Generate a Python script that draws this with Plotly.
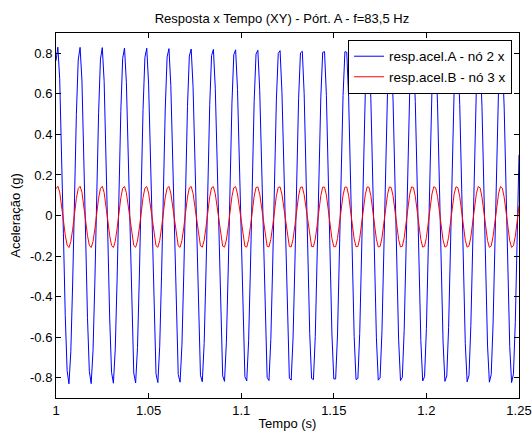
import numpy as np
import plotly.graph_objects as go

# ---- data ----
t_start = 1.0          # s
sample_rate = 1000.0   # Hz

blue_A = [
    0.763, 0.830, 0.675, 0.338, -0.090, -0.494, -0.765, -0.830, -0.672, -0.333, 0.095,
    0.498, 0.767, 0.829, 0.668, 0.328, -0.101, -0.502, -0.769, -0.829, -0.665, -0.323, 0.106,
    0.506, 0.771, 0.828, 0.661, 0.318, -0.111, -0.510, -0.773, -0.827, -0.658, -0.313, 0.116,
    0.514, 0.775, 0.826, 0.655, 0.308, -0.121, -0.518, -0.777, -0.826, -0.652, -0.303, 0.126,
    0.522, 0.779, 0.825, 0.648, 0.298, -0.132, -0.526, -0.781, -0.824, -0.645, -0.294, 0.137,
    0.530, 0.782, 0.823, 0.641, 0.289, -0.142, -0.534, -0.784, -0.822, -0.638, -0.284, 0.147,
    0.538, 0.786, 0.821, 0.635, 0.279, -0.152, -0.542, -0.788, -0.820, -0.631, -0.274, 0.157,
    0.546, 0.789, 0.819, 0.628, 0.269, -0.162, -0.550, -0.791, -0.818, -0.625, -0.264, 0.168,
    0.554, 0.793, 0.817, 0.621, 0.259, -0.173, -0.558, -0.795, -0.816, -0.618, -0.254, 0.178,
    0.563, 0.796, 0.815, 0.615, 0.249, -0.183, -0.566, -0.798, -0.814, -0.611, -0.244, 0.188,
    0.570, 0.799, 0.813, 0.608, 0.239, -0.193, -0.574, -0.801, -0.812, -0.604, -0.234, 0.199,
    0.578, 0.802, 0.810, 0.600, 0.229, -0.203, -0.582, -0.804, -0.809, -0.597, -0.224, 0.209,
    0.585, 0.805, 0.808, 0.593, 0.219, -0.214, -0.589, -0.806, -0.806, -0.589, -0.214, 0.219,
    0.592, 0.808, 0.805, 0.585, 0.209, -0.224, -0.596, -0.809, -0.804, -0.581, -0.204, 0.229,
    0.600, 0.810, 0.802, 0.578, 0.199, -0.234, -0.603, -0.812, -0.801, -0.574, -0.193, 0.239,
    0.606, 0.813, 0.799, 0.569, 0.188, -0.244, -0.610, -0.814, -0.798, -0.566, -0.183, 0.249,
    0.614, 0.815, 0.796, 0.562, 0.178, -0.254, -0.617, -0.816, -0.795, -0.558, -0.173, 0.259,
    0.620, 0.817, 0.793, 0.554, 0.168, -0.264, -0.624, -0.818, -0.791, -0.551, -0.163, 0.269,
    0.628, 0.819, 0.790, 0.547, 0.158, -0.274, -0.632, -0.820, -0.788, -0.543, -0.153, 0.279,
    0.635, 0.821, 0.786, 0.539, 0.147, -0.284, -0.639, -0.822, -0.784, -0.535, -0.142, 0.289,
    0.642, 0.823, 0.783, 0.531, 0.137, -0.294, -0.646, -0.824, -0.781, -0.527, -0.132, 0.299,
]

red_B = [
    0.132, 0.144, 0.116, 0.055, -0.023, -0.097, -0.146, -0.158, -0.129, -0.068, 0.010,
    0.084, 0.133, 0.144, 0.115, 0.053, -0.025, -0.098, -0.147, -0.158, -0.128, -0.066, 0.012,
    0.085, 0.133, 0.144, 0.113, 0.051, -0.027, -0.100, -0.148, -0.158, -0.127, -0.064, 0.014,
    0.087, 0.134, 0.143, 0.112, 0.049, -0.029, -0.101, -0.148, -0.157, -0.126, -0.062, 0.016,
    0.088, 0.135, 0.143, 0.111, 0.047, -0.031, -0.103, -0.149, -0.157, -0.124, -0.060, 0.018,
    0.090, 0.135, 0.143, 0.110, 0.046, -0.033, -0.104, -0.150, -0.157, -0.123, -0.059, 0.020,
    0.091, 0.136, 0.143, 0.109, 0.044, -0.035, -0.106, -0.150, -0.156, -0.122, -0.057, 0.022,
    0.092, 0.137, 0.142, 0.107, 0.042, -0.037, -0.107, -0.151, -0.156, -0.121, -0.055, 0.024,
    0.094, 0.137, 0.142, 0.106, 0.040, -0.039, -0.109, -0.152, -0.156, -0.119, -0.053, 0.025,
    0.095, 0.138, 0.141, 0.105, 0.038, -0.040, -0.110, -0.152, -0.155, -0.118, -0.052, 0.027,
    0.097, 0.139, 0.141, 0.104, 0.037, -0.042, -0.112, -0.153, -0.155, -0.117, -0.050, 0.029,
    0.098, 0.139, 0.141, 0.102, 0.035, -0.044, -0.113, -0.153, -0.154, -0.116, -0.048, 0.031,
    0.099, 0.140, 0.140, 0.101, 0.033, -0.046, -0.114, -0.154, -0.154, -0.114, -0.046, 0.033,
    0.101, 0.140, 0.140, 0.100, 0.031, -0.048, -0.116, -0.154, -0.153, -0.113, -0.044, 0.035,
    0.102, 0.141, 0.139, 0.098, 0.029, -0.050, -0.117, -0.155, -0.153, -0.111, -0.042, 0.036,
    0.103, 0.141, 0.138, 0.097, 0.027, -0.051, -0.118, -0.155, -0.152, -0.110, -0.040, 0.038,
    0.105, 0.141, 0.138, 0.095, 0.025, -0.053, -0.119, -0.156, -0.152, -0.109, -0.039, 0.040,
    0.106, 0.142, 0.137, 0.094, 0.024, -0.055, -0.121, -0.156, -0.151, -0.107, -0.037, 0.042,
    0.107, 0.142, 0.137, 0.093, 0.022, -0.057, -0.122, -0.156, -0.150, -0.106, -0.035, 0.044,
    0.109, 0.143, 0.136, 0.091, 0.020, -0.059, -0.123, -0.157, -0.150, -0.104, -0.033, 0.046,
    0.110, 0.143, 0.135, 0.090, 0.018, -0.060, -0.125, -0.157, -0.149, -0.103, -0.031, 0.047,
]

series_names = ["resp.acel.A - nó 2 x", "resp.acel.B - nó 3 x"]

x_tick_vals = [1.0, 1.05, 1.1, 1.15, 1.2, 1.25]
x_tick_text = ["1", "1.05", "1.1", "1.15", "1.2", "1.25"]
y_tick_vals = [-0.8, -0.6, -0.4, -0.2, 0.0, 0.2, 0.4, 0.6, 0.8]
y_tick_text = ["-0.8", "-0.6", "-0.4", "-0.2", "0", "0.2", "0.4", "0.6", "0.8"]

title_text = "Resposta x Tempo (XY) - Pórt. A - f=83,5 Hz"
x_title = "Tempo (s)"
y_title = "Aceleração (g)"

# ---- figure ----
t_A = t_start + np.arange(len(blue_A)) / sample_rate
t_B = t_start + np.arange(len(red_B)) / sample_rate

FONT = "Arial, Liberation Sans, sans-serif"
FS = 13

fig = go.Figure()
fig.add_trace(go.Scatter(x=t_A, y=blue_A, mode="lines", name=series_names[0],
                         line=dict(color="#0000FF", width=1)))
fig.add_trace(go.Scatter(x=t_B, y=red_B, mode="lines", name=series_names[1],
                         line=dict(color="#FF0000", width=1)))

axis_common = dict(showline=True, linecolor="black", linewidth=1, mirror="allticks",
                   ticks="inside", ticklen=5, tickcolor="black", showgrid=False,
                   zeroline=False, automargin=False, ticklabeloverflow="allow",
                   tickfont=dict(family=FONT, size=FS, color="black"))

fig.update_layout(
    width=532, height=434,
    margin=dict(l=56, r=13, t=33, b=36, autoexpand=False),
    paper_bgcolor="white", plot_bgcolor="white",
    font=dict(family=FONT, size=FS, color="black"),
    title=dict(text=title_text, x=0.530, xanchor="center", y=0.958, yanchor="middle",
               font=dict(family=FONT, size=FS, color="black")),
    xaxis=dict(range=[1.0, 1.25], tickvals=x_tick_vals, ticktext=x_tick_text,
               title=dict(text=x_title, standoff=2, font=dict(family=FONT, size=FS)),
               **axis_common),
    yaxis=dict(range=[-0.9, 0.9], tickvals=y_tick_vals, ticktext=y_tick_text,
               title=dict(text=y_title, standoff=6, font=dict(family=FONT, size=FS)),
               **axis_common),
    legend=dict(x=0.985, y=0.981, xanchor="right", yanchor="top",
                bgcolor="white", bordercolor="black", borderwidth=1,
                font=dict(family=FONT, size=13.5, color="black"),
                tracegroupgap=0, itemwidth=30),
    showlegend=True,
)

fig.write_html("out.html", config={"displayModeBar": False},
               post_script="document.body.style.margin='0px';")
